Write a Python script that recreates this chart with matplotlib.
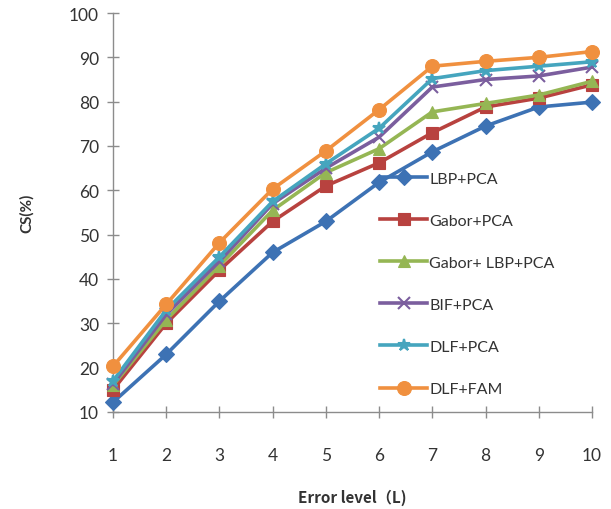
import matplotlib.pyplot as plt

levels = [1, 2, 3, 4, 5, 6, 7, 8, 9, 10]

lbp_pca = [12.2, 23, 35, 46, 53, 61.8, 68.7, 74.5, 78.8, 79.9]
gabor_pca = [15, 30, 42, 53, 61, 66.2, 73, 78.8, 80.8, 83.8]
gabor_lbp_pca = [16, 30.8, 43, 55.5, 64, 69.4, 77.7, 79.6, 81.5, 84.6]
bif_pca = [16.3, 32, 44, 57, 65, 72, 83.3, 85, 85.8, 87.8]
dlf_pca = [17, 33, 45, 57.5, 66, 74, 85.2, 87, 88, 89]
dlf_fam = [20.3, 34.3, 48.2, 60.3, 68.9, 78.2, 88, 89.1, 90, 91.3]

labels = ["LBP+PCA", "Gabor+PCA", "Gabor+ LBP+PCA", "BIF+PCA", "DLF+PCA", "DLF+FAM"]
colors = ["#3D72B4", "#B8423F", "#95B654", "#7B5E9E", "#45A5BE", "#F0903F"]
markers = ["D", "s", "^", "x", "*", "o"]
series = [lbp_pca, gabor_pca, gabor_lbp_pca, bif_pca, dlf_pca, dlf_fam]

plt.rcParams["font.family"] = ["Lato", "DejaVu Sans"]

fig = plt.figure(figsize=(6.11, 5.10), dpi=100)
ax = fig.add_axes([113 / 611, 97 / 510, 479 / 611, 399 / 510])

for vals, lab, c, m in zip(series, labels, colors, markers):
    ms = 8 if m in ("D", "s", "^") else 9
    if m == "o":
        ms = 10
    mew = 1.5 if m in ("x", "*") else 0.8
    ax.plot(levels, vals, color=c, marker=m, markersize=ms, linewidth=2.6,
            markeredgecolor=c, markeredgewidth=mew, label=lab, clip_on=False, zorder=3)

ax.set_xlim(1, 10)
ax.set_ylim(10, 100)
ax.set_xticks(levels)
ax.set_yticks(range(10, 101, 10))

for s in ("top", "right"):
    ax.spines[s].set_visible(False)
for s in ("left", "bottom"):
    ax.spines[s].set_color("#8c8c8c")
    ax.spines[s].set_linewidth(1.0)

ax.tick_params(axis="both", direction="inout", length=8, width=1.0, color="#8c8c8c",
               labelsize=12.5, labelcolor="#333333")
ax.tick_params(axis="y", pad=6)
ax.tick_params(axis="x", pad=21)

ax.set_xlabel("Error level（L)", fontsize=11, fontweight="bold", color="#333333",
              family=["Noto Sans CJK SC", "DejaVu Sans"], labelpad=19)
ax.set_ylabel("CS(%)", fontsize=11, fontweight="bold", color="#333333", labelpad=25)

leg = ax.legend(loc="upper left", bbox_to_anchor=(366 / 611, 1 - 158 / 510),
                bbox_transform=fig.transFigure, frameon=False, fontsize=11.5,
                labelspacing=1.75, handlelength=2.9, handletextpad=0.15,
                labelcolor="#333333")

fig.savefig("out.png", dpi=100)
